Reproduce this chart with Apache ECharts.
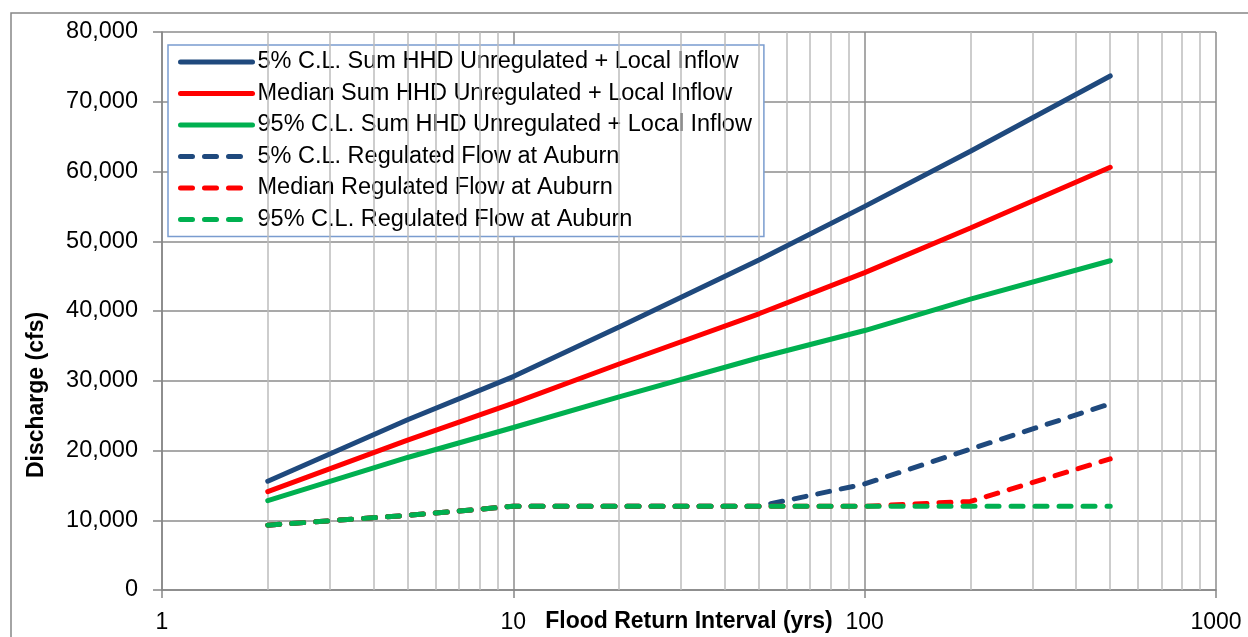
<!DOCTYPE html>
<html>
<head>
<meta charset="utf-8">
<script src="https://cdn.jsdelivr.net/npm/echarts@6/dist/echarts.min.js"></script>
<style>
  html, body { margin: 0; padding: 0; background: #ffffff; }
  #chart { width: 1248px; height: 637px; }
</style>
</head>
<body>
<div id="chart"></div>
<script>
// ---- data ----
const returnPeriods = [2, 5, 10, 20, 50, 100, 200, 500];
const unreg5  = [15600, 24400, 30600, 37700, 47300, 55000, 62900, 73700];
const unregMed = [14100, 21500, 26800, 32400, 39600, 45500, 51900, 60600];
const unreg95 = [12800, 19000, 23300, 27700, 33300, 37200, 41700, 47200];
const reg5    = [9300, 10700, 12000, 12000, 12000, 15200, 20200, 26700];
const regMed  = [9300, 10700, 12000, 12000, 12000, 12000, 12700, 18800];
const reg95   = [9300, 10700, 12000, 12000, 12000, 12000, 12000, 12000];
const seriesNames = [
  '5% C.L. Sum HHD Unregulated + Local Inflow',
  'Median Sum HHD Unregulated + Local Inflow',
  '95% C.L. Sum HHD Unregulated + Local Inflow',
  '5% C.L. Regulated Flow at Auburn',
  'Median Regulated Flow at Auburn',
  '95% C.L. Regulated Flow at Auburn'
];
const xTickLabels = { 1: '1', 10: '10', 100: '100', 1000: '1000' };
const minorGridValues = [2,3,4,5,6,7,8,9,20,30,40,50,60,70,80,90,200,300,400,500,600,700,800,900];

const NAVY = '#1F497D', RED = '#FF0000', GREEN = '#00B050';
const FONT = 'Liberation Sans';

function pairs(vals) { return returnPeriods.map((x, i) => [x, vals[i]]); }
function mkSeries(name, vals, color, dashed) {
  return {
    name: name, type: 'line', data: pairs(vals), symbol: 'none', z: 5,
    lineStyle: { color: color, width: 5, type: dashed ? [12, 12] : 'solid', cap: 'round' },
    itemStyle: { color: color },
    animation: false
  };
}

const chart = echarts.init(document.getElementById('chart'), null, { renderer: 'canvas' });
chart.setOption({
  backgroundColor: '#ffffff',
  animation: false,
  grid: { left: 162, right: 32, top: 32, bottom: 47, containLabel: false, outerBoundsMode: 'none' },
  xAxis: {
    type: 'log', logBase: 10, min: 1, max: 1000,
    name: 'Flood Return Interval (yrs)', nameLocation: 'middle', nameGap: 20,
    nameMoveOverlap: false,
    nameTextStyle: { fontFamily: FONT, fontSize: 23, fontWeight: 'bold', color: '#000', verticalAlign: 'top' },
    axisLine: { show: true, lineStyle: { color: '#868686', width: 1.5 } },
    axisTick: { show: true, length: 8, lineStyle: { color: '#868686', width: 1.5 } },
    axisLabel: {
      fontFamily: FONT, fontSize: 23, color: '#000', margin: 21,
      formatter: v => xTickLabels[Math.round(v)] || ''
    },
    splitLine: { show: true, lineStyle: { color: '#8C8C8C', width: 1.5 } }
  },
  yAxis: {
    type: 'value', min: 0, max: 80000, interval: 10000,
    axisLine: { show: true, lineStyle: { color: '#868686', width: 1.5 } },
    axisTick: { show: true, length: 9, lineStyle: { color: '#868686', width: 1.5 } },
    axisLabel: { fontFamily: FONT, fontSize: 23.5, color: '#000', margin: 24 },
    splitLine: { show: true, lineStyle: { color: '#8C8C8C', width: 1.7 } }
  },
  legend: {
    data: seriesNames,
    orient: 'vertical', left: 168, top: 45,
    padding: [4, 12, 4, 10],
    backgroundColor: '#ffffff', borderColor: '#7A9CCF', borderWidth: 1.5,
    itemWidth: 72, itemHeight: 14, itemGap: 5.5,
    itemStyle: { color: 'rgba(0,0,0,0)', borderColor: 'rgba(0,0,0,0)', borderWidth: 0 },
    lineStyle: { width: 5, cap: 'round' },
    textStyle: { fontFamily: FONT, fontSize: 23.5, color: '#000', lineHeight: 26 },
    selectedMode: false
  },
  graphic: [
    { type: 'rect', shape: { x: 11, y: 13, width: 1300, height: 700 }, style: { fill: 'none', stroke: '#868686', lineWidth: 1.5 }, silent: true, z: -10 },
    { type: 'text', x: 37, y: 395, rotation: Math.PI / 2,
      style: { text: 'Discharge (cfs)', font: 'bold 23px "Liberation Sans"', fill: '#000', align: 'center', verticalAlign: 'middle' } }
  ],
  series: [
    {
      name: 'minorGrid', type: 'line', data: [], silent: true, z: 1,
      markLine: {
        silent: true, symbol: 'none', label: { show: false }, animation: false,
        lineStyle: { color: '#BDBDBD', width: 1.5, type: 'solid' },
        data: minorGridValues.map(v => ({ xAxis: v }))
      }
    },
    mkSeries(seriesNames[0], unreg5, NAVY, false),
    mkSeries(seriesNames[1], unregMed, RED, false),
    mkSeries(seriesNames[2], unreg95, GREEN, false),
    mkSeries(seriesNames[3], reg5, NAVY, true),
    mkSeries(seriesNames[4], regMed, RED, true),
    mkSeries(seriesNames[5], reg95, GREEN, true)
  ]
});
</script>
</body>
</html>
